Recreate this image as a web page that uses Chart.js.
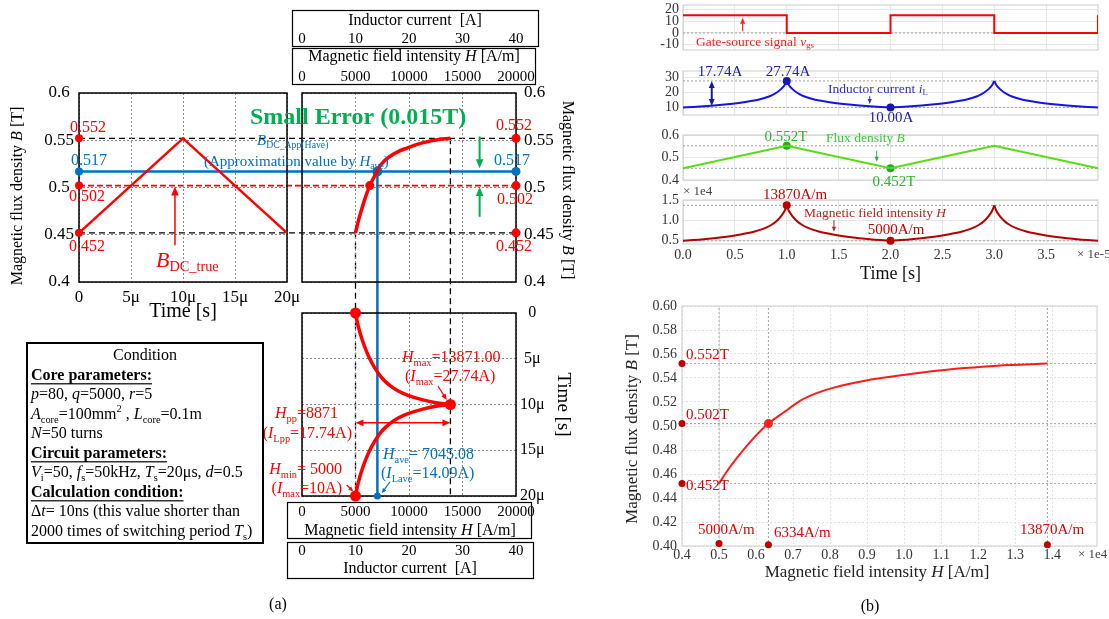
<!DOCTYPE html>
<html><head><meta charset="utf-8">
<script src="https://cdn.jsdelivr.net/npm/chart.js@4.4.1/dist/chart.umd.min.js"></script>
<style>html,body{margin:0;padding:0;background:#fff;}#wrap{position:relative;width:1109px;height:619px;overflow:hidden;background:#fff;}</style>
</head><body><div id="wrap">
<canvas id="under" width="1109" height="619" style="position:absolute;left:0;top:0;z-index:1"></canvas>
<canvas id="over" width="1109" height="619" style="position:absolute;left:0;top:0;z-index:3"></canvas>
</div>
<script>
// ===================== DATA =====================
// one switching period, time in μs
const tPeriod = [0,1,2,3,4,5,6,7,7.5,8,8.5,9,9.5,9.8,10,10.2,10.5,11,11.5,12,12.5,13,14,15,16,17,18,19,20];
// magnetic field intensity H [A/m]
const HPeriod = [5000,5170,5380,5650,5960,6334,6800,7400,7800,8300,8950,9900,11300,12500,13871,12500,11300,9900,8950,8300,7800,7400,6800,6334,5960,5650,5380,5170,5000];
// inductor current [A]
const iPeriod = [10,10.34,10.76,11.3,11.92,12.67,13.6,14.8,15.6,16.6,17.9,19.8,22.6,25,27.74,25,22.6,19.8,17.9,16.6,15.6,14.8,13.6,12.67,11.92,11.3,10.76,10.34,10];
// flux density B [T]
const tFlux = [0,10,20];
const BFlux = [0.452,0.552,0.452];
// B-H curve of the core
const H_BH = [5000,5220,5500,5880,6334,6800,7210,7600,8100,8980,9870,10750,11640,12520,13870];
const B_BH = [0.452,0.4625,0.474,0.488,0.502,0.5125,0.5214,0.527,0.532,0.538,0.542,0.5456,0.5483,0.5503,0.552];
// gate-source signal (two periods)
const tGate = [0,10,20,30,40];
const vGate = [15,0,15,0,15];
// characteristic values
const Bmax = 0.552, Bmin = 0.452, BdcTrue = 0.502, BdcApp = 0.517;
const Hmin = 5000, Hmax = 13871, Have = 7045.08, HdcTrue = 6334, HmaxB = 13870;
const iMin = 10, iMax = 27.74;
// tick values
const tTicksA = [0,5,10,15,20];
const bTicksA = [0.4,0.45,0.5,0.55,0.6];
const hTicksA = [0,5000,10000,15000,20000];
const iTicksA = [0,10,20,30,40];
const tTicksB = [0,5,10,15,20,25,30,35];
const vTicksB = [-10,0,10,20];
const iTicksB = [10,20,30];
const bTicksB = [0.4,0.5,0.6];
const hTicksB = [5000,10000,15000];
const hTicksBH = [4000,5000,6000,7000,8000,9000,10000,11000,12000,13000,14000];
const bTicksBH = [0.40,0.42,0.44,0.46,0.48,0.50,0.52,0.54,0.56,0.58,0.60];

// ===================== SETUP =====================
const RED='#ff0000', BLUE='#0070c0', GREEN='#00b050';
const FAM="'Liberation Serif','Times New Roman',serif";
Chart.defaults.font.family=FAM; Chart.defaults.color='#000';
Chart.register({id:'frame',beforeDatasetsDraw(ch,a,o){if(!o||!o.color)return;const c=ch.ctx,r=ch.chartArea;c.save();c.strokeStyle=o.color;c.lineWidth=o.width||1;c.strokeRect(r.left,r.top,r.right-r.left,r.bottom-r.top);c.restore();}});
const wrap=document.getElementById('wrap');
function mk(l,t,w,h){const c=document.createElement('canvas');c.width=w;c.height=h;c.style.cssText='position:absolute;left:'+l+'px;top:'+t+'px;z-index:2';wrap.appendChild(c);c.pos=[l,t];return c;}
const pts=(xs,ys)=>xs.map((x,i)=>({x:x,y:ys[i]}));
const fixT=arr=>s=>{s.ticks=arr.map(v=>({value:v}));};
const nopad=s=>{s.paddingTop=0;s.paddingBottom=0;s.paddingLeft=0;s.paddingRight=0;};
const fitW=n=>s=>{s.width=n;nopad(s);}; const fitH=n=>s=>{s.height=n;nopad(s);};
function opts(pad,scales,fc,fw){return {responsive:false,animation:false,devicePixelRatio:1,events:[],layout:{padding:pad,autoPadding:false},plugins:{legend:{display:false},tooltip:{enabled:false},frame:{color:fc,width:fw}},scales:scales};}
function lineDs(data,color,w,ax,extra){return Object.assign({data:data,showLine:true,borderColor:color,borderWidth:w,pointRadius:0,xAxisID:ax[0],yAxisID:ax[1]},extra||{});}
function dotDs(data,color,r,ax){return {data:data,showLine:false,pointRadius:r,pointBackgroundColor:color,pointBorderColor:color,pointBorderWidth:0,clip:false,xAxisID:ax[0],yAxisID:ax[1]};}
// split a period into rising and falling halves (keeps the cusp sharp)
const pk=tPeriod.indexOf(10);
function halves(ts,vs,shift,swap){const r=[],f=[];for(let i=0;i<ts.length;i++){const p=swap?{x:vs[i],y:ts[i]+shift}:{x:ts[i]+shift,y:vs[i]};if(i<=pk)r.push(p);if(i>=pk)f.push(p);}return [r,f];}
const mono={cubicInterpolationMode:'monotone'};
const tLab=v=>v===0?'0':v+'μ';
const gA={color:'#8a8a8a',drawTicks:false,lineWidth:1}; const bA={display:false,dash:[2,2]};

// ===================== (a) B vs t =====================
const A1=new Chart(mk(0,0,300,324),{type:'scatter',data:{datasets:[
  lineDs(pts(tFlux,BFlux),RED,2.5,['x','y']),
  dotDs(pts([0,0,0],[Bmax,BdcTrue,Bmin]),RED,4,['x','y']),
  dotDs(pts([0],[BdcApp]),BLUE,4,['x','y'])
]},options:opts({top:93,right:13,left:0,bottom:0},{
  x:{type:'linear',min:0,max:20,afterBuildTicks:fixT(tTicksA),afterFit:fitH(42),ticks:{font:{size:17},padding:5,color:'#000',callback:tLab,autoSkip:false,maxRotation:0},grid:gA,border:bA,title:{display:true,text:'Time [s]',font:{size:20},padding:{top:0,bottom:0},color:'#000'}},
  y:{type:'linear',min:0.4,max:0.6,afterBuildTicks:fixT(bTicksA),afterFit:fitW(79),ticks:{font:{size:17},crossAlign:'center',padding:5,color:'#000',callback:v=>String(v),autoSkip:false},grid:gA,border:bA}
},'#000',1.5)});

// ===================== (a) B vs H =====================
const axA2=['xH','y'];
const A2=new Chart(mk(290,0,290,290),{type:'scatter',data:{datasets:[
  lineDs(pts(H_BH,B_BH),RED,3.5,axA2,mono),
  dotDs(pts([HdcTrue],[BdcTrue]),RED,4.5,axA2),
  dotDs(pts([Have],[BdcApp]),BLUE,5,axA2),
  dotDs(pts([20000,20000,20000],[Bmax,BdcTrue,Bmin]),RED,4.5,axA2),
  dotDs(pts([20000],[BdcApp]),BLUE,4.5,axA2)
]},options:opts({top:10,left:12,right:0,bottom:8},{
  xI:{type:'linear',position:'top',weight:2,min:0,max:40,afterBuildTicks:fixT(iTicksA),afterFit:fitH(38),ticks:{font:{size:15},padding:0,color:'#000',autoSkip:false,maxRotation:0},grid:{display:false,drawTicks:false},border:{display:false}},
  xH:{type:'linear',position:'top',weight:1,min:0,max:20000,afterBuildTicks:fixT(hTicksA),afterFit:fitH(45),ticks:{font:{size:15},padding:7,color:'#000',callback:v=>String(v),autoSkip:false,maxRotation:0},grid:gA,border:bA},
  y:{type:'linear',position:'right',min:0.4,max:0.6,afterBuildTicks:fixT(bTicksA),afterFit:fitW(64),ticks:{font:{size:17},padding:8,color:'#000',callback:v=>String(v),autoSkip:false},grid:gA,border:bA}
},'#000',1.5)});

// ===================== (a) H vs t =====================
const axA3=['xH3','yT'];
const hA=halves(tPeriod,HPeriod,0,true);
const A3=new Chart(mk(290,300,290,300),{type:'scatter',data:{datasets:[
  lineDs(hA[0],RED,3.5,axA3,mono),
  lineDs(hA[1],RED,3.5,axA3,mono),
  dotDs(pts([Hmin,Hmax,Hmin],[0,10,20]),RED,5.5,axA3),
  dotDs(pts([Have],[20]),BLUE,3.5,axA3)
]},options:opts({top:13,left:12,right:0,bottom:20},{
  xH3:{type:'linear',position:'bottom',weight:1,min:0,max:20000,afterBuildTicks:fixT(hTicksA),afterFit:fitH(44),ticks:{font:{size:15},padding:7,color:'#000',callback:v=>String(v),autoSkip:false,maxRotation:0},grid:gA,border:bA},
  xI3:{type:'linear',position:'bottom',weight:2,min:0,max:40,afterBuildTicks:fixT(iTicksA),afterFit:fitH(40),ticks:{font:{size:15},padding:2,color:'#000',autoSkip:false,maxRotation:0},grid:{display:false,drawTicks:false},border:{display:false}},
  yT:{type:'linear',position:'right',min:0,max:20,reverse:true,afterBuildTicks:fixT(tTicksA),afterFit:fitW(64),ticks:{font:{size:16},crossAlign:'center',padding:4,color:'#000',callback:tLab,autoSkip:false},grid:gA,border:bA,title:{display:true,text:'Time [s]',font:{size:19},padding:{top:6,bottom:0},color:'#000'}}
},'#000',1.5)});

// ===================== (b) time charts =====================
const gB={color:'#e6e6e6',drawTicks:false}; const bB={display:false};
const REF='#a0a0a0';
function refDs(data,ax){return lineDs(data,REF,1,ax,{borderDash:[2,2]});}
function bX(show){return {type:'linear',min:0,max:40,afterBuildTicks:fixT(tTicksB),afterFit:fitH(show?41:0),
  ticks:show?{font:{size:14},padding:3,color:'#333',callback:v=>(v/10).toFixed(1),autoSkip:false,maxRotation:0}:{display:false},
  grid:gB,border:bB,title:show?{display:true,text:'Time [s]',font:{size:18},padding:{top:0,bottom:0},color:'#111'}:{display:false}};}
function bY(min,max,ticks,cb){return {type:'linear',min:min,max:max,afterBuildTicks:fixT(ticks),afterFit:fitW(63),ticks:{font:{size:14},padding:4,color:'#333',callback:cb,autoSkip:false},grid:gB,border:bB};}
function twoPeriods(ts,vs){const a=halves(ts,vs,0,false),b=halves(ts,vs,20,false);return [a[0],a[1],b[0],b[1]];}
const ax=['x','y'];

const B1=new Chart(mk(620,0,489,55),{type:'scatter',data:{datasets:[
  lineDs(pts(tGate,vGate),RED,2,ax,{stepped:true}),
  refDs(pts([0,40],[0,0]),ax)
]},options:opts({top:5,right:11,left:0,bottom:5},{x:bX(false),y:bY(-14.4,23.7,vTicksB,v=>String(v))},'#cccccc',1)});

const iSeg=twoPeriods(tPeriod,iPeriod);
const B2=new Chart(mk(620,60,489,60),{type:'scatter',data:{datasets:[
  lineDs(iSeg[0],'#1414e6',2,ax,mono),lineDs(iSeg[1],'#1414e6',2,ax,mono),lineDs(iSeg[2],'#1414e6',2,ax,mono),lineDs(iSeg[3],'#1414e6',2,ax,mono),
  dotDs(pts([10,20],[iMax,iMin]),'#1a1a99',4,ax),
  refDs(pts([0,40],[iMax,iMax]),ax),refDs(pts([0,40],[iMin,iMin]),ax)
]},options:opts({top:11,right:11,left:0,bottom:5},{x:bX(false),y:bY(4.9,34.4,iTicksB,v=>String(v))},'#cccccc',1)});

const B3=new Chart(mk(620,125,489,65),{type:'scatter',data:{datasets:[
  lineDs(pts(tFlux.concat([30,40]),BFlux.concat([Bmax,Bmin])),'#55dd11',2,ax),
  dotDs(pts([10,20],[Bmax,Bmin]),'#22aa22',4,ax),
  refDs(pts([0,40],[Bmax,Bmax]),ax),refDs(pts([0,40],[Bmin,Bmin]),ax)
]},options:opts({top:10,right:11,left:0,bottom:10},{x:bX(false),y:bY(0.4,0.6,bTicksB,v=>v.toFixed(1))},'#cccccc',1)});

const hSeg=twoPeriods(tPeriod,HPeriod);
const B4=new Chart(mk(620,190,489,95),{type:'scatter',data:{datasets:[
  lineDs(hSeg[0],'#b30000',2,ax,mono),lineDs(hSeg[1],'#b30000',2,ax,mono),lineDs(hSeg[2],'#b30000',2,ax,mono),lineDs(hSeg[3],'#b30000',2,ax,mono),
  dotDs(pts([10,20],[HmaxB,Hmin]),'#c00000',4,ax),
  refDs(pts([0,40],[HmaxB,HmaxB]),ax),refDs(pts([0,40],[Hmin,Hmin]),ax)
]},options:opts({top:10,right:11,left:0,bottom:0},{x:bX(true),y:bY(4200,15200,hTicksB,v=>(v/1e4).toFixed(1))},'#cccccc',1)});

// ===================== (b) B-H chart =====================
const bhXMax=15210;
const B5=new Chart(mk(620,290,489,329),{type:'scatter',data:{datasets:[
  lineDs(pts(H_BH,B_BH),'#ff1a1a',2,ax,mono),
  dotDs(pts([HdcTrue],[BdcTrue]),'#ff2020',4.5,ax),
  dotDs(pts([4000,4000,4000],[Bmax,BdcTrue,Bmin]),'#c00000',3.5,ax),
  dotDs(pts([Hmin,HdcTrue,HmaxB],[0.402,0.401,0.401]),'#c00000',3.5,ax),
  refDs(pts([4000,bhXMax],[Bmax,Bmax]),ax),refDs(pts([4000,bhXMax],[BdcTrue,BdcTrue]),ax),refDs(pts([4000,bhXMax],[Bmin,Bmin]),ax),
  refDs(pts([Hmin,Hmin],[0.4,0.6]),ax),refDs(pts([HdcTrue,HdcTrue],[0.4,0.6]),ax),refDs(pts([HmaxB,HmaxB],[0.4,0.6]),ax)
]},options:opts({top:16,right:12,left:0,bottom:29},{
  x:{type:'linear',min:4000,max:bhXMax,afterBuildTicks:fixT(hTicksBH),afterFit:fitH(44),ticks:{font:{size:14},padding:1,color:'#333',callback:v=>(v/1e4).toFixed(1),autoSkip:false,maxRotation:0},grid:{color:'#e2e2e2',drawTicks:false},border:{display:false,dash:[2,2]}},
  y:{type:'linear',min:0.4,max:0.6,afterBuildTicks:fixT(bTicksBH),afterFit:fitW(62),ticks:{font:{size:14},padding:5,color:'#333',callback:v=>v.toFixed(2),autoSkip:false},grid:{color:'#e2e2e2',drawTicks:false},border:{display:false,dash:[2,2]}}
},'#cccccc',1)});

// ===================== OVERLAYS =====================
const U=document.getElementById('under').getContext('2d');
const O=document.getElementById('over').getContext('2d');
const PX=(ch,id,v)=>ch.canvas.pos[0]+ch.scales[id].getPixelForValue(v);
const PY=(ch,id,v)=>ch.canvas.pos[1]+ch.scales[id].getPixelForValue(v);
function seg(ctx,x1,y1,x2,y2,color,w,dash){ctx.save();ctx.strokeStyle=color;ctx.lineWidth=w;ctx.setLineDash(dash||[]);ctx.beginPath();ctx.moveTo(x1,y1);ctx.lineTo(x2,y2);ctx.stroke();ctx.restore();}
function arrow(ctx,x1,y1,x2,y2,color,lw,hl,both){
  ctx.save();ctx.strokeStyle=color;ctx.fillStyle=color;ctx.lineWidth=lw;
  const a=Math.atan2(y2-y1,x2-x1),hw=hl*0.42,c=Math.cos(a),s=Math.sin(a);
  const sx=both?x1+c*hl*0.7:x1,sy=both?y1+s*hl*0.7:y1;
  ctx.beginPath();ctx.moveTo(sx,sy);ctx.lineTo(x2-c*hl*0.7,y2-s*hl*0.7);ctx.stroke();
  function head(x,y,cc,ss){ctx.beginPath();ctx.moveTo(x,y);ctx.lineTo(x-hl*cc+hw*ss,y-hl*ss-hw*cc);ctx.lineTo(x-hl*cc-hw*ss,y-hl*ss+hw*cc);ctx.closePath();ctx.fill();}
  head(x2,y2,c,s); if(both) head(x1,y1,-c,-s);
  ctx.restore();
}
function rich(ctx,x,y,segs,size,color,align,rot){
  align=align||'left';
  const parts=segs.map(sg=>{const t=sg[0],f=sg[1]||'';const sub=f.indexOf('s')>=0,sup=f.indexOf('p')>=0;const fs=(sub||sup)?size*0.65:size;
    const font=(f.indexOf('i')>=0?'italic ':'')+(f.indexOf('b')>=0?'bold ':'')+fs+'px '+FAM;ctx.font=font;
    return {t:t,font:font,w:ctx.measureText(t).width,dy:sub?size*0.3:(sup?-size*0.33:0),u:f.indexOf('u')>=0,fs:fs};});
  const total=parts.reduce((a,p)=>a+p.w,0);
  ctx.save();ctx.translate(x,y);if(rot)ctx.rotate(rot);
  let cx=align==='center'?-total/2:(align==='right'?-total:0);
  ctx.fillStyle=color;ctx.textBaseline='middle';ctx.textAlign='left';
  for(const p of parts){ctx.font=p.font;ctx.fillText(p.t,cx,p.dy);if(p.u)ctx.fillRect(cx,p.dy+p.fs*0.45,p.w,Math.max(1.2,p.fs*0.07));cx+=p.w;}
  ctx.restore();
}

// ---- (a) cross-chart lines (under the charts) ----
const xL=PX(A1,'x',0), xR=PX(A2,'xH',20000);
[[Bmax,'#000',1.3,[6,4]],[Bmin,'#000',1.3,[6,4]],[BdcTrue,RED,1.6,[6,3]],[BdcApp,BLUE,2.5,null]].forEach(r=>{const y=PY(A1,'y',r[0]);seg(U,xL,y,xR,y,r[1],r[2],r[3]);});
const yBot=PY(A3,'yT',20);
seg(U,PX(A2,'xH',Hmin),PY(A2,'y',Bmin),PX(A2,'xH',Hmin),yBot,'#000',1.3,[6,4]);
seg(U,PX(A2,'xH',Hmax),PY(A2,'y',Bmax),PX(A2,'xH',Hmax),yBot,'#000',1.3,[6,4]);
seg(U,PX(A2,'xH',Have),PY(A2,'y',BdcApp),PX(A2,'xH',Have),yBot,BLUE,2.5);

// ---- (a) axis boxes ----
O.strokeStyle='#000';O.lineWidth=1.2;
O.strokeRect(292.5,10.5,246,36);O.strokeRect(292.5,48.5,243,36);
O.strokeRect(287.5,502.5,244,36);O.strokeRect(287.5,542.5,246,36);
rich(O,415,21,[['Inductor current  [A]']],16,'#000','center');
rich(O,414,57,[['Magnetic field intensity '],['H','i'],[' [A/m]']],16,'#000','center');
rich(O,410,531,[['Magnetic field intensity '],['H','i'],[' [A/m]']],16,'#000','center');
rich(O,410,569,[['Inductor current  [A]']],16,'#000','center');
rich(O,18,196,[['Magnetic flux density '],['B','i'],[' [T]']],16,'#000','center',-Math.PI/2);
rich(O,567,190,[['Magnetic flux density '],['B','i'],[' [T]']],16,'#000','center',Math.PI/2);

// ---- (a) annotations ----
rich(O,250,118,[['Small Error (0.015T)','b']],24,GREEN);
rich(O,257,141,[['B','i'],['DC_App(Have)','s']],15,BLUE);
rich(O,204,162,[['(Approximation value by '],['H','i'],['ave','s'],[')']],15,BLUE);
rich(O,88,128,[['0.552']],16,RED,'center');rich(O,89,161,[['0.517']],16,BLUE,'center');
rich(O,87,197,[['0.502']],16,RED,'center');rich(O,87,247,[['0.452']],16,RED,'center');
rich(O,156,261,[['B','i'],['DC_true','s']],22,RED);
arrow(O,PX(A1,'x',9.23),PY(A1,'y',0.439),PX(A1,'x',9.23),PY(A1,'y',0.501),RED,1.5,9);
rich(O,514,126,[['0.552']],16,RED,'center');rich(O,512,161,[['0.517']],16,BLUE,'center');
rich(O,515,200,[['0.502']],16,RED,'center');rich(O,514,247,[['0.452']],16,RED,'center');
arrow(O,PX(A2,'xH',16600),PY(A2,'y',0.554),PX(A2,'xH',16600),PY(A2,'y',0.5205),GREEN,2,9);
arrow(O,PX(A2,'xH',16600),PY(A2,'y',0.469),PX(A2,'xH',16600),PY(A2,'y',0.5005),GREEN,2,9);
rich(O,402,358,[['H','i'],['max','s'],['=13871.00']],16,RED);
rich(O,405,377,[['('],['I','i'],['max','s'],['=27.74A)']],16,RED);
arrow(O,PX(A3,'xH3',12710),PY(A3,'yT',7.98),PX(A3,'xH3',13523),PY(A3,'yT',9.5),RED,1.2,6);
arrow(O,PX(A3,'xH3',Hmin),PY(A3,'yT',12),PX(A3,'xH3',Hmax),PY(A3,'yT',12),RED,1.6,8,true);
rich(O,338,414,[['H','i'],['pp','s'],['=8871']],16,RED,'right');
rich(O,352,434,[['('],['I','i'],['Lpp','s'],['=17.74A)']],16,RED,'right');
rich(O,342,470,[['H','i'],['min','s'],['= 5000']],16,RED,'right');
rich(O,342,489,[['('],['I','i'],['max','s'],['=10A)']],16,RED,'right');
arrow(O,PX(A3,'xH3',4177),PY(A3,'yT',18.8),PX(A3,'xH3',4794),PY(A3,'yT',19.5),RED,1.2,5);
rich(O,383,455,[['H','i'],['ave','s'],['= 7045.08']],16,BLUE);
rich(O,381,474,[['('],['I','i'],['Lave','s'],['=14.09A)']],16,BLUE);
arrow(O,PX(A3,'xH3',8224),PY(A3,'yT',18.44),PX(A3,'xH3',7449),PY(A3,'yT',19.7),BLUE,1.2,5);

// ---- condition box ----
O.lineWidth=2;O.strokeStyle='#000';O.strokeRect(27,343,236,200);
const K='#000',cx0=31,fs=16;
rich(O,145,356,[['Condition']],fs,K,'center');
rich(O,cx0,376,[['Core parameters:','bu']],fs,K);
rich(O,cx0,395,[['p','i'],['=80, '],['q','i'],['=5000, '],['r','i'],['=5']],fs,K);
rich(O,cx0,415,[['A','i'],['core','s'],['=100mm'],['2','p'],[' , '],['L','i'],['core','s'],['=0.1m']],fs,K);
rich(O,cx0,434,[['N','i'],['=50 turns']],fs,K);
rich(O,cx0,454,[['Circuit parameters:','bu']],fs,K);
rich(O,cx0,473,[['V','i'],['i','s'],['=50, '],['f','i'],['s','s'],['=50kHz, '],['T','i'],['s','s'],['=20μs, '],['d','i'],['=0.5']],fs,K);
rich(O,cx0,493,[['Calculation condition:','bu']],fs,K);
rich(O,cx0,512,[['Δ'],['t','i'],['= 10ns (this value shorter than']],fs,K);
rich(O,cx0,532,[['2000 times of switching period '],['T','i'],['s','s'],[')']],fs,K);
rich(O,278,605,[['(a)']],16,K,'center');
rich(O,870,607,[['(b)']],16,K,'center');

// ---- (b) annotations ----
arrow(O,PX(B1,'x',5.75),PY(B1,'y',1.5),PX(B1,'x',5.75),PY(B1,'y',12.8),'#ff2020',1.2,6);
rich(O,696,42,[['Gate-source signal '],['v','i'],['gs','s']],13.5,'#ff2020');
rich(O,720,72,[['17.74A']],15,'#2020aa','center');
rich(O,788,72,[['27.74A']],15,'#2020aa','center');
arrow(O,PX(B2,'x',2.77),PY(B2,'y',iMax),PX(B2,'x',2.77),PY(B2,'y',11.0),'#1a1a9a',2,7,true);
rich(O,828,89,[['Inductor current '],['i','i'],['L','s']],13.5,'#3030c8');
arrow(O,PX(B2,'x',18),PY(B2,'y',17.5),PX(B2,'x',18),PY(B2,'y',12.3),'#3030c8',1,5);
rich(O,891,118,[['10.00A']],15,'#2020aa','center');
rich(O,786,137,[['0.552T']],15,'#22bb22','center');
rich(O,826,138,[['Flux density '],['B','i']],13.5,'#33cc33');
arrow(O,PX(B3,'x',18.67),PY(B3,'y',0.530),PX(B3,'x',18.67),PY(B3,'y',0.481),'#33aa33',1,5);
rich(O,894,182,[['0.452T']],15,'#22bb22','center');
rich(O,683,192,[['× 1e4']],13,'#444');
rich(O,795,195,[['13870A/m']],15,'#cc0000','center');
rich(O,804,213,[['Magnetic field intensity '],['H','i']],13.5,'#bb2222');
arrow(O,PX(B4,'x',14.55),PY(B4,'y',10200),PX(B4,'x',14.55),PY(B4,'y',7275),'#bb2222',1,5);
rich(O,896,230,[['5000A/m']],15,'#cc0000','center');
rich(O,1077,255,[['× 1e-5']],13,'#444');
rich(O,686,355,[['0.552T']],15,'#e00000');
rich(O,686,415,[['0.502T']],15,'#e00000');
rich(O,686,486,[['0.452T']],15,'#e00000');
rich(O,698,530,[['5000A/m']],15,'#e00000');
rich(O,774,533,[['6334A/m']],15,'#e00000');
rich(O,1020,530,[['13870A/m']],15,'#e00000');
rich(O,1078,555,[['× 1e4']],13,'#444');
rich(O,633,429,[['Magnetic flux density '],['B','i'],[' [T]']],17,'#222','center',-Math.PI/2);
rich(O,877,573,[['Magnetic field intensity '],['H','i'],[' [A/m]']],17,'#222','center');
</script></body></html>
